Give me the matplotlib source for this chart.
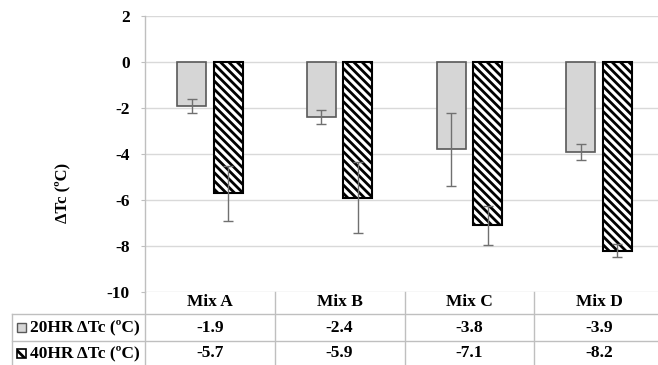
import matplotlib
matplotlib.use("Agg")
import matplotlib.pyplot as plt
import matplotlib.transforms as mtransforms
from matplotlib.patches import Rectangle
from matplotlib.lines import Line2D
import numpy as np

# Data
categories = ["Mix A", "Mix B", "Mix C", "Mix D"]
series_names = ["20HR ΔTc (ºC)", "40HR ΔTc (ºC)"]
dtc_20hr = [-1.9, -2.4, -3.8, -3.9]
dtc_40hr = [-5.7, -5.9, -7.1, -8.2]
err_20hr = [0.3, 0.3, 1.6, 0.35]
err_40hr = [1.2, 1.55, 0.85, 0.27]
y_ticks = [2, 0, -2, -4, -6, -8, -10]

plt.rcParams["font.family"] = ["Liberation Serif", "DejaVu Serif"]
plt.rcParams["font.weight"] = "bold"
plt.rcParams["hatch.linewidth"] = 2.0
plt.rcParams["hatch.color"] = "black"

W, H = 658, 365
fig = plt.figure(figsize=(W / 100, H / 100), dpi=100)
ax = fig.add_axes([145 / W, 1 - 292 / H, (664 - 145) / W, (292 - 16) / H])

x = np.arange(len(categories))
bw = 0.224
off = 0.141

grid_c = "#d9d9d9"
line_c = "#bfbfbf"
err_c = "#707070"

ax.bar(x - off, dtc_20hr, bw, color="#d6d6d6", edgecolor="#595959", linewidth=1.2, zorder=2)
ax.bar(x + off, dtc_40hr, bw, color="white", edgecolor="black", linewidth=1.5,
       hatch="\\\\\\\\", zorder=2)
ax.errorbar(x - off, dtc_20hr, yerr=err_20hr, fmt="none", ecolor=err_c, elinewidth=1.0,
            capsize=3.5, capthick=1.0, zorder=3)
ax.errorbar(x + off, dtc_40hr, yerr=err_40hr, fmt="none", ecolor=err_c, elinewidth=1.0,
            capsize=3.5, capthick=1.0, zorder=3)

ax.set_xlim(-0.5, len(categories) - 0.5)
ax.set_ylim(-10, 2)
ax.set_yticks(y_ticks)
ax.set_yticklabels([str(t) for t in y_ticks], fontsize=12.5, fontweight="bold")
ax.yaxis.grid(True, color=grid_c, linewidth=1.0, zorder=0)
ax.set_axisbelow(True)
ax.set_xticks([])
for s in ["top", "right", "bottom"]:
    ax.spines[s].set_visible(False)
ax.spines["left"].set_color(line_c)
ax.spines["left"].set_linewidth(1.0)
ax.tick_params(axis="y", length=3, color=line_c, pad=8)

fig.text(62 / W, 1 - 193 / H, "ΔTc (ºC)", rotation=90, ha="center", va="center",
         fontsize=12, fontweight="bold")

# Data table under the axis
tr = mtransforms.blended_transform_factory(ax.transData, fig.transFigure)
fy = lambda py: 1 - py / H
row_header, row1, row2 = 302, 327.5, 353
for i, c in enumerate(categories):
    ax.text(i, fy(row_header), c, transform=tr, ha="center", va="center",
            fontsize=12.5, fontweight="bold", clip_on=False)
    ax.text(i, fy(row1), f"{dtc_20hr[i]:.1f}", transform=tr, ha="center", va="center",
            fontsize=12.5, fontweight="bold", clip_on=False)
    ax.text(i, fy(row2), f"{dtc_40hr[i]:.1f}", transform=tr, ha="center", va="center",
            fontsize=12.5, fontweight="bold", clip_on=False)

# table rules
for py in (314, 341):
    fig.add_artist(Line2D([12 / W, 1.0], [fy(py), fy(py)], color=line_c, linewidth=1.0))
for k in range(1, len(categories)):
    ax.plot([k - 0.5, k - 0.5], [fy(292), fy(365)], transform=tr, color=line_c,
            linewidth=1.0, clip_on=False)
fig.add_artist(Line2D([145 / W, 145 / W], [fy(292), fy(365)], color=line_c, linewidth=1.0))
fig.add_artist(Line2D([12 / W, 12 / W], [fy(314), fy(365)], color=line_c, linewidth=1.0))

# legend keys and row labels
ks = 9
fig.add_artist(Rectangle((17 / W, fy(row1 + ks / 2)), ks / W, ks / H, transform=fig.transFigure,
                         facecolor="#d6d6d6", edgecolor="#595959", linewidth=1.0))
fig.add_artist(Rectangle((17 / W, fy(row2 + ks / 2)), ks / W, ks / H, transform=fig.transFigure,
                         facecolor="white", edgecolor="black", linewidth=1.2, hatch="\\\\"))
fig.text(30 / W, fy(row1), series_names[0], ha="left", va="center", fontsize=12.5, fontweight="bold")
fig.text(30 / W, fy(row2), series_names[1], ha="left", va="center", fontsize=12.5, fontweight="bold")

fig.savefig("out.png", dpi=100)
